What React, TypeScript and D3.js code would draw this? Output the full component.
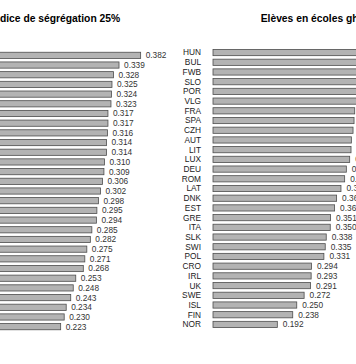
import React from "react";
import * as d3 from "d3";

const segValues = [0.382, 0.339, 0.328, 0.325, 0.324, 0.323, 0.317, 0.317, 0.316, 0.314, 0.314, 0.310, 0.309, 0.306, 0.302, 0.298, 0.295, 0.294, 0.285, 0.282, 0.275, 0.271, 0.268, 0.253, 0.248, 0.243, 0.234, 0.230, 0.223];

const countries = ["HUN", "BUL", "FWB", "SLO", "POR", "VLG", "FRA", "SPA", "CZH", "AUT", "LIT", "LUX", "DEU", "ROM", "LAT", "DNK", "EST", "GRE", "ITA", "SLK", "SWI", "POL", "CRO", "IRL", "UK", "SWE", "ISL", "FIN", "NOR"];
const ghettoValues = [0.49, 0.47, 0.46, 0.45, 0.44, 0.435, 0.423, 0.421, 0.418, 0.413, 0.412, 0.408, 0.398, 0.393, 0.382, 0.369, 0.363, 0.351, 0.350, 0.338, 0.335, 0.331, 0.294, 0.293, 0.291, 0.272, 0.250, 0.238, 0.192];

const titleLeft = "Indice de ségrégation 25%";
const titleRight = "Elèves en écoles ghettos";

const W = 356, H = 364;
const FONT = "'Liberation Sans', Arial, Helvetica, sans-serif";
const fmt = d3.format(".3f");

export default function App() {
  const xL = d3.scaleLinear().domain([0, 0.4]).range([-51.5, -51.5 + 0.4 * 503]);
  const yL = d3.scaleBand<number>().domain(d3.range(segValues.length)).range([50.5, 50.5 + 9.69 * segValues.length]).paddingInner(0.36).paddingOuter(0.18);
  const xR = d3.scaleLinear().domain([0, 0.4]).range([213, 213 + 0.4 * 335]);
  const yR = d3.scaleBand<string>().domain(countries).range([47.7, 47.7 + 9.71 * countries.length]).paddingInner(0.36).paddingOuter(0.18);

  return (
    <svg width={W} height={H} style={{ position: "absolute", left: 0, top: 0, background: "#fff" }} fontFamily={FONT}>
      <rect x={0} y={0} width={W} height={H} fill="#fff" />
      <text x={-9.2} y={22} fontSize={10.3} fontWeight="bold" fill="#000">{titleLeft}</text>
      <text x={260.7} y={22} fontSize={10.3} fontWeight="bold" fill="#000">{titleRight}</text>
      <g>
        {segValues.map((v, i) => (
          <g key={i}>
            <rect x={xL(0)} y={yL(i)} width={xL(v) - xL(0)} height={yL.bandwidth()} fill="#b3b3b3" stroke="#4d4d4d" strokeWidth={0.8} />
            <text x={xL(v) + 5} y={yL(i)! + yL.bandwidth() / 2} dy="0.35em" fontSize={8.3} fill="#333">{fmt(v)}</text>
          </g>
        ))}
      </g>
      <g>
        {countries.map((c, i) => (
          <g key={c}>
            <text x={201} y={yR(c)! + yR.bandwidth() / 2} dy="0.35em" fontSize={8.3} fill="#222" textAnchor="end">{c}</text>
            <rect x={xR(0)} y={yR(c)} width={xR(ghettoValues[i]) - xR(0)} height={yR.bandwidth()} fill="#b3b3b3" stroke="#4d4d4d" strokeWidth={0.8} />
            <text x={xR(ghettoValues[i]) + 5.5} y={yR(c)! + yR.bandwidth() / 2} dy="0.35em" fontSize={8.3} fill="#333">{fmt(ghettoValues[i])}</text>
          </g>
        ))}
      </g>
    </svg>
  );
}
